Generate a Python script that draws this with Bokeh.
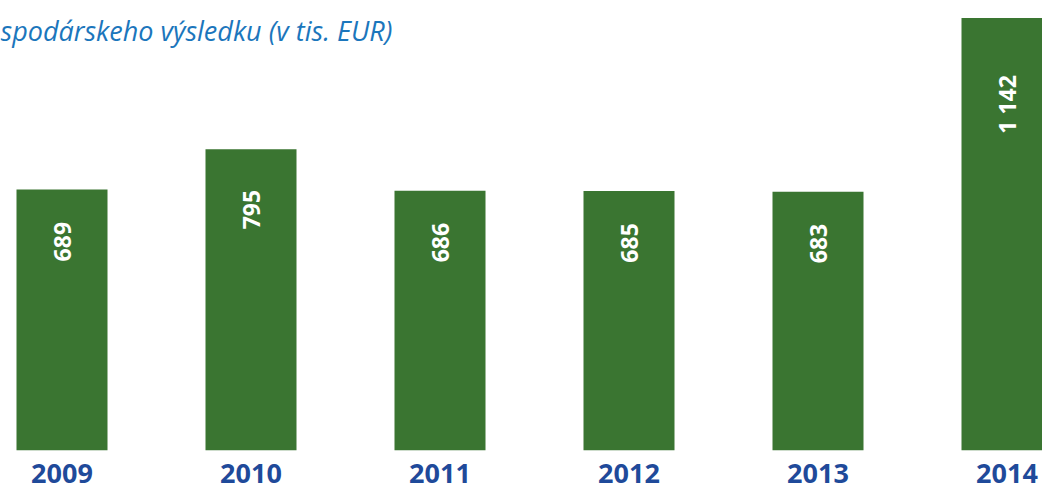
import math
from bokeh.plotting import figure
from bokeh.models import ColumnDataSource, Range1d, Label, FixedTicker
from bokeh.core.properties import value
from bokeh.embed import file_html
from bokeh.resources import INLINE

years = ["2009", "2010", "2011", "2012", "2013", "2014"]
values = [689, 795, 686, 685, 683, 1142]
title_text = "spodárskeho výsledku (v tis. EUR)"

GREEN = "#3A7531"
AXIS_BLUE = "#1F4A9A"
TITLE_BLUE = "#1B76BC"

idx = list(range(len(years)))
labels = [f"{v:,}".replace(",", " ") for v in values]
label_y = [v * 0.8 for v in values]
src = ColumnDataSource(dict(x=idx, top=values, lbl=labels, ly=label_y))

W, H = 1042, 491
FRAME_H = 450
px_per_cat = 189.0
x_start = -61.5 / px_per_cat
x_end = x_start + W / px_per_cat
px_per_unit = 261.0 / 689.0
y_end = FRAME_H / px_per_unit

p = figure(width=W, height=H, output_backend="svg",
           toolbar_location=None, min_border=0, min_border_bottom=H - FRAME_H,
           x_range=Range1d(x_start, x_end), y_range=Range1d(0, y_end))
p.outline_line_color = None
p.grid.grid_line_color = None
p.yaxis.visible = False

p.vbar(x="x", top="top", bottom=0, width=91 / px_per_cat, source=src,
       fill_color=GREEN, line_color=None)

p.text(x="x", y="ly", text="lbl", source=src, angle=math.pi / 2,
       text_align="center", text_baseline="middle", text_color="white",
       text_font=value("Open Sans"), text_font_style="bold",
       text_font_size="23px")

xa = p.xaxis[0]
xa.ticker = FixedTicker(ticks=idx)
xa.major_label_overrides = {i: y for i, y in zip(idx, years)}
xa.axis_line_color = None
xa.major_tick_line_color = None
xa.minor_tick_line_color = None
xa.major_tick_in = 0
xa.major_tick_out = 0
xa.major_label_standoff = 13
xa.major_label_text_font = "Open Sans"
xa.major_label_text_font_style = "bold"
xa.major_label_text_font_size = "27px"
xa.major_label_text_color = AXIS_BLUE

p.add_layout(Label(x=x_start, y=(FRAME_H - 39) / px_per_unit, text=title_text,
                   text_font="Open Sans", text_font_style="italic",
                   text_font_size="27px", text_color=TITLE_BLUE,
                   text_baseline="alphabetic", x_offset=0, y_offset=9))

open("out.html", "w").write(file_html(p, INLINE))
